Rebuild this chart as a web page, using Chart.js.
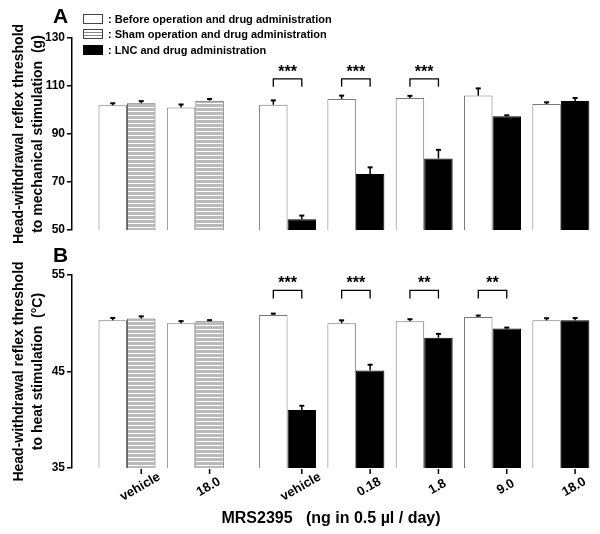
<!DOCTYPE html>
<html>
<head>
<meta charset="utf-8">
<script src="https://cdn.jsdelivr.net/npm/chart.js@4.4.1/dist/chart.umd.min.js"></script>
<style>
  html, body { margin: 0; padding: 0; background: #fff; }
  body { width: 600px; height: 534px; position: relative; overflow: hidden; font-family: "Liberation Sans", Arial, sans-serif; color: #000; }
  canvas { position: absolute; left: 0; }
  #chartA { top: 0; }
  #chartB { top: 250px; }
  .letter { position: absolute; left: 53px; font-weight: bold; font-size: 21px; line-height: 21px; }
  .legend { position: absolute; left: 83px; top: 11px; font-size: 11px; font-weight: bold; }
  .legend .row { display: flex; align-items: center; height: 15.6px; white-space: pre; }
  .legend .box { width: 18px; height: 8px; border: 1px solid #444; margin-right: 5px; }
  .box.white { background: #fff; }
  .box.hatch { background: repeating-linear-gradient(#fff 0 2px, #888 2px 3px); }
  .box.black { background: #000; border-color: #000; }
  .xtitle { position: absolute; left: 331px; top: 510px; transform: translateX(-50%); font-size: 16px; font-weight: bold; line-height: 16px; white-space: pre; }
</style>
</head>
<body>
<canvas id="chartA" width="600" height="250"></canvas>
<canvas id="chartB" width="600" height="284"></canvas>
<div class="letter" style="top:5px">A</div>
<div class="letter" style="top:244px">B</div>
<div class="legend">
  <div class="row"><span class="box white"></span>: Before operation and drug administration</div>
  <div class="row"><span class="box hatch"></span>: Sham operation and drug administration</div>
  <div class="row"><span class="box black"></span>: LNC and drug administration</div>
</div>
<div class="xtitle">MRS2395   (ng in 0.5 µl / day)</div>
<script>
// groups: two sham groups, then LNC groups
const doses = ['vehicle', '18.0', 'vehicle', '0.18', '1.8', '9.0', '18.0'];
const groupKind = ['sham', 'sham', 'lnc', 'lnc', 'lnc', 'lnc', 'lnc'];

// A: mechanical threshold (g)
const mechBefore = [102, 101, 102.2, 104.6, 105, 106, 102.5];
const mechBeforeErr = [0.8, 1.3, 1.8, 1.4, 0.9, 3.0, 0.7];
const mechAfter = [102.8, 103.9, 54.5, 73.3, 79.8, 97.4, 103.8];
const mechAfterErr = [0.9, 0.7, 1.5, 2.8, 3.6, 0.4, 1.2];
const mechSig = ['', '', '***', '***', '***', '', ''];

// B: heat threshold (°C)
const heatBefore = [50.3, 50.0, 50.85, 50.0, 50.2, 50.65, 50.3];
const heatBeforeErr = [0.25, 0.22, 0.15, 0.3, 0.22, 0.15, 0.22];
const heatAfter = [50.5, 50.2, 41.0, 45.1, 48.5, 49.45, 50.3];
const heatAfterErr = [0.22, 0.12, 0.45, 0.6, 0.4, 0.1, 0.25];
const heatSig = ['', '', '***', '***', '**', '**', ''];

// extra space between the sham block and the LNC block
const blockGap = 0.35;
const groupPos = groupKind.map((k, i) => i + (k === 'lnc' ? blockGap : 0));

const FONT = '"Liberation Sans", Arial, sans-serif';

// horizontal stripes for the sham bars
function makeHatch() {
  const c = document.createElement('canvas');
  c.width = 4; c.height = 4;
  const g = c.getContext('2d');
  g.fillStyle = '#bababa'; g.fillRect(0, 0, 4, 3);
  g.fillStyle = '#ffffff'; g.fillRect(0, 3, 4, 1);
  return g.createPattern(c, 'repeat');
}
const hatch = makeHatch();

// error bars, significance brackets, dose ticks
const marks = {
  id: 'marks',
  afterDatasetsDraw(chart, args, o) {
    const ctx = chart.ctx;
    const y = chart.scales.y;
    ctx.save();
    ctx.strokeStyle = '#000';
    ctx.fillStyle = '#000';
    o.errors.forEach((errs, d) => {
      const meta = chart.getDatasetMeta(d);
      meta.data.forEach((bar, i) => {
        const top = y.getPixelForValue(chart.data.datasets[d].data[i].y + errs[i]);
        ctx.lineWidth = 1.5;
        ctx.beginPath(); ctx.moveTo(bar.x, bar.y); ctx.lineTo(bar.x, top); ctx.stroke();
        ctx.lineWidth = 2;
        ctx.beginPath(); ctx.moveTo(bar.x - 2.5, top); ctx.lineTo(bar.x + 2.5, top); ctx.stroke();
      });
    });
    const m0 = chart.getDatasetMeta(0), m1 = chart.getDatasetMeta(1);
    const by = y.getPixelForValue(o.level);
    o.sig.forEach((s, i) => {
      if (!s) return;
      const x0 = m0.data[i].x, x1 = m1.data[i].x;
      ctx.lineWidth = 1.3;
      ctx.beginPath();
      ctx.moveTo(x0, by + 8); ctx.lineTo(x0, by); ctx.lineTo(x1, by); ctx.lineTo(x1, by + 8);
      ctx.stroke();
      ctx.font = 'bold 16px ' + FONT;
      ctx.textAlign = 'center';
      ctx.textBaseline = 'alphabetic';
      ctx.fillText(s, (x0 + x1) / 2, by - 2);
    });
    if (o.labels) {
      const base = chart.chartArea.bottom;
      ctx.lineWidth = 1.5;
      ctx.font = 'bold 13px ' + FONT;
      ctx.textAlign = 'center';
      ctx.textBaseline = 'middle';
      o.labels.forEach((lab, i) => {
        const x = m1.data[i].x;
        ctx.beginPath(); ctx.moveTo(x, base + 1); ctx.lineTo(x, base + 6); ctx.stroke();
        ctx.save();
        ctx.translate(x - 1, base + 19);
        ctx.rotate(-Math.PI / 6);
        ctx.fillText(lab, 0, 0);
        ctx.restore();
      });
    }
    ctx.restore();
  }
};

function pts(vals) {
  return vals.map((v, i) => ({ x: groupPos[i], y: v }));
}

function makeChart(id, cfg) {
  return new Chart(document.getElementById(id), {
    type: 'bar',
    data: {
      datasets: [
        { data: pts(cfg.before), backgroundColor: '#fff', borderColor: '#777', borderWidth: 1 },
        {
          data: pts(cfg.after),
          backgroundColor: groupKind.map(k => k === 'sham' ? hatch : '#000'),
          borderColor: groupKind.map(k => k === 'sham' ? '#666' : '#000'),
          borderWidth: 1
        }
      ]
    },
    options: {
      responsive: false,
      animation: false,
      events: [],
      layout: { padding: cfg.padding },
      datasets: { bar: { categoryPercentage: 0.834, barPercentage: 1 } },
      plugins: {
        legend: { display: false },
        tooltip: { enabled: false },
        marks: { errors: [cfg.beforeErr, cfg.afterErr], sig: cfg.sig, level: cfg.level, labels: cfg.labels }
      },
      scales: {
        x: {
          type: 'linear', display: false, offset: false, grid: { offset: false },
          min: -0.805, max: 6.85,
          ticks: { autoSkip: false },
          afterBuildTicks: s => { s.ticks = groupPos.map(v => ({ value: v })); }
        },
        y: {
          min: cfg.min, max: cfg.max,
          ticks: { stepSize: cfg.step, color: '#000', padding: 2, font: { family: FONT, size: 12, weight: 'bold' } },
          grid: { drawOnChartArea: false, drawTicks: true, tickLength: 5, color: '#000', lineWidth: 1.5 },
          border: { display: true, color: '#000', width: 1.5 },
          title: {
            display: true, text: cfg.title, color: '#000',
            font: { family: FONT, size: 14, weight: 'bold', lineHeight: 1.35 },
            padding: { top: 10, bottom: 0 }
          },
          afterFit: s => { s.width = 72; }
        }
      }
    },
    plugins: [marks]
  });
}

makeChart('chartA', {
  before: mechBefore, beforeErr: mechBeforeErr, after: mechAfter, afterErr: mechAfterErr,
  sig: mechSig, level: 113, labels: null,
  min: 50, max: 130, step: 20,
  title: ['Head-withdrawal reflex threshold', 'to mechanical stimulation  (g)'],
  padding: { top: 38, bottom: 20, left: 0, right: 5 }
});

makeChart('chartB', {
  before: heatBefore, beforeErr: heatBeforeErr, after: heatAfter, afterErr: heatAfterErr,
  sig: heatSig, level: 53.4, labels: doses,
  min: 35, max: 55, step: 10,
  title: ['Head-withdrawal reflex threshold', 'to heat stimulation  (°C)'],
  padding: { top: 25, bottom: 66, left: 0, right: 5 }
});
</script>
</body>
</html>
